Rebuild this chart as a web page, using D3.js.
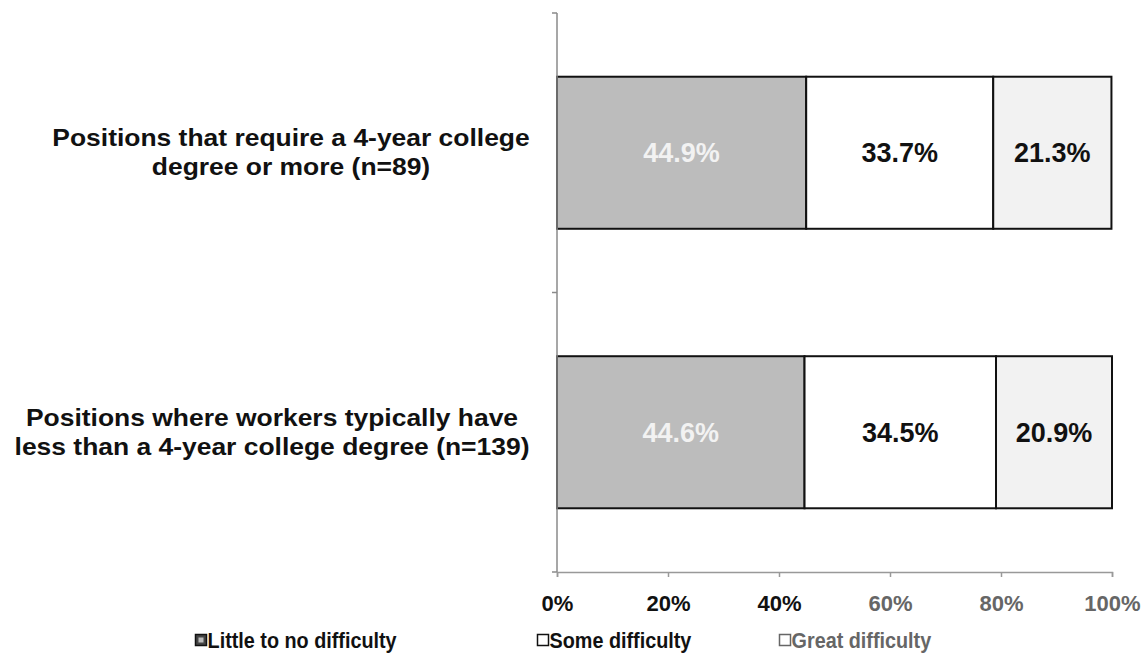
<!DOCTYPE html>
<html>
<head>
<meta charset="utf-8">
<script src="https://cdn.jsdelivr.net/npm/d3@7"></script>
<style>
  html, body { margin: 0; padding: 0; background: #fff; }
  svg { display: block; font-family: "Liberation Sans", Arial, Helvetica, sans-serif; font-weight: bold; }
</style>
</head>
<body>
<svg id="chart" width="1143" height="671"></svg>
<script>
// Hiring difficulty by education level of position
const categories = ["college", "noncollege"];
const categoryLines = [
  ["Positions that require a 4-year college", "degree or more (n=89)"],
  ["Positions where workers typically have", "less than a 4-year college degree (n=139)"]
];
const seriesNames = ["Little to no difficulty", "Some difficulty", "Great difficulty"];
const littleDifficulty = [44.9, 44.6];
const someDifficulty = [33.7, 34.5];
const greatDifficulty = [21.3, 20.9];
const xTicks = [0, 20, 40, 60, 80, 100];

const rows = categories.map((c, i) => ({
  category: c,
  [seriesNames[0]]: littleDifficulty[i],
  [seriesNames[1]]: someDifficulty[i],
  [seriesNames[2]]: greatDifficulty[i]
}));

const svg = d3.select("#chart");
const plot = { left: 557, right: 1112, top: 13, bottom: 572 };

const x = d3.scaleLinear().domain([0, 100]).range([plot.left, plot.right]);
const y = d3.scaleBand().domain(categories).range([plot.top, plot.bottom])
  .paddingInner(0.456).paddingOuter(0.228);

const fills = ["#bcbcbc", "#ffffff", "#f2f2f2"];
const labelColors = ["#f2f2f2", "#111", "#111"];

const stack = d3.stack().keys(seriesNames)(rows);

// Bars
const layers = svg.append("g").selectAll("g").data(stack).join("g");
layers.selectAll("rect")
  .data((d, i) => d.map(v => ({ v, i })))
  .join("rect")
  .attr("x", d => x(d.v[0]))
  .attr("y", d => y(d.v.data.category))
  .attr("width", d => x(d.v[1]) - x(d.v[0]))
  .attr("height", y.bandwidth())
  .attr("fill", d => fills[d.i])
  .attr("stroke", "#111")
  .attr("stroke-width", 2);

// Value labels
layers.selectAll("text")
  .data((d, i) => d.map(v => ({ v, i })))
  .join("text")
  .attr("x", d => (x(d.v[0]) + x(d.v[1])) / 2)
  .attr("y", d => y(d.v.data.category) + y.bandwidth() / 2)
  .attr("dy", "0.36em")
  .attr("text-anchor", "middle")
  .attr("font-size", 27)
  .attr("fill", d => labelColors[d.i])
  .text(d => (d.v[1] - d.v[0]).toFixed(1) + "%");

// Y axis line with category boundary ticks
const yAxis = svg.append("g").attr("stroke", "#8a8a8a").attr("stroke-width", 1.5);
yAxis.append("line")
  .attr("x1", plot.left).attr("x2", plot.left)
  .attr("y1", plot.top).attr("y2", plot.bottom);
const boundaries = [plot.top, (y(categories[0]) + y.bandwidth() + y(categories[1])) / 2, plot.bottom];
yAxis.selectAll("line.tick").data(boundaries).join("line")
  .attr("class", "tick")
  .attr("x1", plot.left - 5).attr("x2", plot.left)
  .attr("y1", d => d).attr("y2", d => d);

// X axis
const xAxis = svg.append("g")
  .attr("transform", `translate(0,${plot.bottom})`)
  .call(d3.axisBottom(x).tickValues(xTicks).tickSize(5).tickPadding(18).tickFormat(d => d + "%"));
xAxis.select(".domain").attr("stroke", "#999").attr("stroke-width", 1.5);
xAxis.selectAll(".tick line").attr("stroke", "#999").attr("stroke-width", 1.5);
xAxis.selectAll(".tick text")
  .attr("font-size", 22)
  .attr("font-weight", "bold")
  .attr("font-family", "'Liberation Sans', Arial, sans-serif")
  .attr("fill", d => d <= 40 ? "#111" : "#666");

// Category labels (slightly widened bold type)
const catCenters = [291, 272];
const catG = svg.append("g");
categories.forEach((c, i) => {
  const cy = y(c) + y.bandwidth() / 2;
  const g = catG.append("g")
    .attr("transform", `translate(${catCenters[i]},${cy}) scale(1.15,1)`);
  const t = g.append("text")
    .attr("text-anchor", "middle")
    .attr("font-size", 23)
    .attr("fill", "#111");
  categoryLines[i].forEach((line, j) => {
    t.append("tspan")
      .attr("x", 0)
      .attr("y", -15 + j * 29)
      .attr("dy", "0.36em")
      .text(line);
  });
});

// Legend
const legendX = [195, 537, 779];
const legendTextColors = ["#111", "#111", "#666"];
const legend = svg.append("g").attr("transform", "translate(0,640)");
seriesNames.forEach((name, i) => {
  const g = legend.append("g").attr("transform", `translate(${legendX[i]},0)`);
  g.append("rect")
    .attr("x", 0.5).attr("y", -5.5)
    .attr("width", 11).attr("height", 11)
    .attr("fill", i === 0 ? "#444" : "#fff")
    .attr("stroke", i === 2 ? "#666" : "#111")
    .attr("stroke-width", 1.5);
  if (i === 0) {
    g.append("rect").attr("x", 3.5).attr("y", -2.5).attr("width", 5).attr("height", 5).attr("fill", "#bbb");
  }
  g.append("text")
    .attr("x", 14)
    .attr("dy", "0.36em")
    .attr("font-size", 22)
    .attr("transform", "scale(0.9,1)")
    .attr("fill", legendTextColors[i])
    .text(name);
});
</script>
</body>
</html>
